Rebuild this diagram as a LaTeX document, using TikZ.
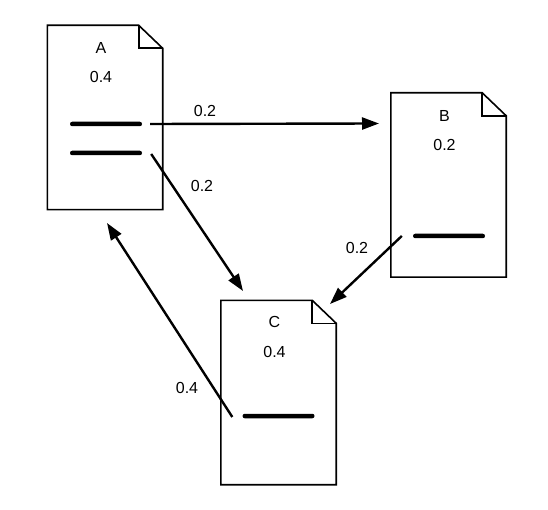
\documentclass[tikz,border=0pt]{standalone}
\usepackage{fontspec}
\setmainfont{Liberation Sans}
\usetikzlibrary{arrows.meta}

\begin{document}
\begin{tikzpicture}[x=1pt, y=-1pt]
		\tikzstyle{every node} = [font=\fontsize{16pt}{19pt}\selectfont, inner sep=0pt]
		\tikzstyle{page} = [minimum width=115pt, minimum height=184pt]
		\tikzstyle{outline} = [line width=1.6pt, line join=miter]
		\tikzstyle{bar} = [fill=black, minimum width=72pt, minimum height=4.5pt, rounded corners=2.2pt]
		\tikzstyle{link} = [line width=2.4pt, -{Triangle[length=17pt,width=12pt]}]
		\useasboundingbox (0,0) rectangle (548,510);

		\node[page] (A) at (105,117.5) {};
		\node[page] (B) at (448.5,185) {};
		\node[page] (C) at (278.5,392.5) {};

		\foreach \p in {A,B,C} {
			\draw[outline] (\p.north west) -- ([xshift=-24pt]\p.north east) -- ([yshift=-23pt]\p.north east) -- (\p.south east) -- (\p.south west) -- cycle;
			\draw[outline] ([xshift=-24pt]\p.north east) |- ([yshift=-23pt]\p.north east);
		}

		\node (nA) at ([xshift=-4pt,yshift=-23pt]A.north) {A};
		\node (vA) at ([xshift=-4pt,yshift=-52pt]A.north) {0.4};
		\node (nB) at ([xshift=-4pt,yshift=-23pt]B.north) {B};
		\node (vB) at ([xshift=-4pt,yshift=-52pt]B.north) {0.2};
		\node (nC) at ([xshift=-4pt,yshift=-22pt]C.north) {C};
		\node (vC) at ([xshift=-4pt,yshift=-52pt]C.north) {0.4};

		\node[bar] (a1) at (106,124) {};
		\node[bar] (a2) at (106,153) {};
		\node[bar] (b1) at (449,236) {};
		\node[bar] (c1) at (278.5,416) {};

		\coordinate (tB) at (379,123.5);
		\coordinate (tC1) at (243,291);
		\coordinate (tC2) at (330,304);
		\coordinate (tA) at (107,223);

		\draw[link] ([xshift=8pt]a1.east) -- (tB);
		\draw[link] ([xshift=9pt,yshift=-1pt]a2.east) -- (tC1);
		\draw[link] ([xshift=-11pt]b1.west) -- (tC2);
		\draw[link] ([xshift=-10pt,yshift=-1pt]c1.west) -- (tA);

		\node (l1) at (205,111) {0.2};
		\node (l2) at (202,186) {0.2};
		\node (l3) at (357,248) {0.2};
		\node (l4) at (187,388) {0.4};
		\end{tikzpicture}
\end{document}
